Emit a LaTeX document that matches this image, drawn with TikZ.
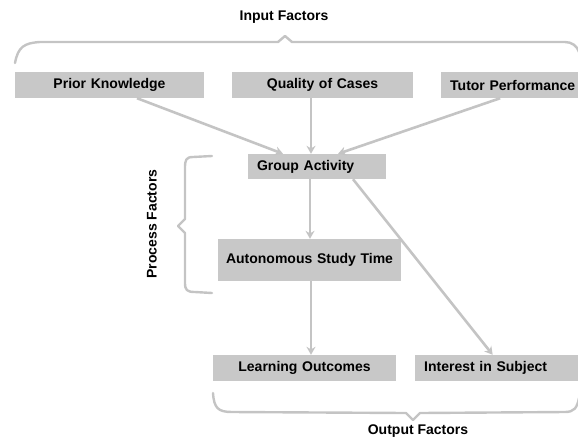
\documentclass[tikz,border=0pt]{standalone}
\usepackage{fontspec}
\setmainfont{Liberation Sans}
\usepackage{tikz}
\usetikzlibrary{arrows.meta}
\usepackage{xcolor}
\definecolor{boxgray}{RGB}{200,200,200}
\definecolor{linegray}{RGB}{196,196,196}

\begin{document}
\begin{tikzpicture}[x=1pt,y=-1pt,>={Stealth[length=8pt,width=9pt]},
  font=\bfseries\fontsize{14}{16}\selectfont,
  factor/.style={fill=boxgray,inner xsep=9pt,inner ysep=0pt,minimum height=26pt,align=center},
  flow/.style={->,draw=linegray,line width=2.6pt},
  brace/.style={draw=linegray,line width=2.4pt,line cap=round,line join=round}]
\useasboundingbox (0,0) rectangle (578,440);
% input factors
\node[factor,text width=171pt] (prior) at (109.5,85) {Prior Knowledge};
\node[factor,text width=163pt] (quality) at (322.5,85) {Quality of Cases};
\node[factor,text width=140pt,align=left,anchor=west] (tutor) at (441,85) {Tutor Performance};
% process factors
\node[factor,text width=120pt,align=left,minimum height=25pt] (group) at (317,166.5) {Group Activity};
\node[factor,text width=175pt,inner xsep=4pt,minimum height=42pt] (study) at (309.5,260) {Autonomous Study Time};
% output factors
\node[factor,text width=165pt] (learning) at (304.5,368) {Learning Outcomes};
\node[factor,text width=145pt,align=left,anchor=west] (interest) at (415,368) {Interest in Subject};

\draw[flow] ([xshift=27.5pt]prior.south) -- ([xshift=-34pt]group.north);
\draw[flow] ([xshift=-11.5pt]quality.south) -- ([xshift=-6pt]group.north);
\draw[flow] ([xshift=-20pt]tutor.south) -- ([xshift=21pt]group.north);
\draw[flow] ([xshift=-7pt]group.south) -- ([xshift=0.5pt]study.north);
\draw[flow] ([xshift=36pt]group.south) -- ([xshift=-4pt]interest.north);
\draw[flow] ([xshift=1.5pt]study.south) -- ([xshift=6.5pt]learning.north);

% braces
\draw[brace] (15,63) .. controls (18,47) and (24,43) .. (40,42) -- (278,42) -- (285,36)
  -- (292,42) -- (565,42) .. controls (572,42) and (577,46) .. (579,52);
\draw[brace] (212,156) -- (193,157) .. controls (186,157) and (185,160) .. (185,168)
  -- (185,219) -- (178,226) -- (185,233) -- (185,283) .. controls (185,290) and (187,292) .. (195,292) -- (212,293);
\draw[brace] (213,393) .. controls (214,408) and (218,412) .. (232,412) -- (406,413) -- (413,420)
  -- (420,413) -- (565,412) .. controls (574,412) and (577,408) .. (579,398);

\node (inputlabel) at (284,17) {Input Factors};
\node[rotate=90] (processlabel) at (152,224) {Process Factors};
\node (outputlabel) at (418,431) {Output Factors};
\end{tikzpicture}
\end{document}
